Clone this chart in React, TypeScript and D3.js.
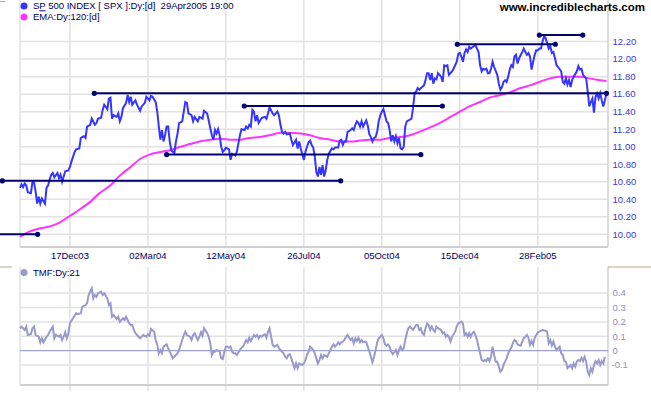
import * as d3 from "d3";
import React, { useEffect, useRef } from "react";

// bar index (trading days from the first bar) and close / 100
const price: [number, number][] = [
  [0, 10.53], [1, 10.57], [2, 10.54], [3, 10.58], [4, 10.56], [5, 10.48], [7, 10.47], [8, 10.6],
  [9, 10.59], [10, 10.49], [11, 10.35], [12, 10.43], [13, 10.35], [14, 10.41], [16, 10.35], [17, 10.53],
  [18, 10.56], [20, 10.68], [21, 10.7], [22, 10.65], [24, 10.7], [25, 10.64], [26, 10.68], [27, 10.6],
  [29, 10.72], [31, 10.73], [32, 10.77], [33, 10.83], [35, 10.94], [36, 10.97], [38, 10.98], [39, 11.1],
  [41, 11.12], [42, 11.1], [43, 11.23], [45, 11.25], [46, 11.32], [48, 11.25], [49, 11.27], [50, 11.32],
  [52, 11.33], [53, 11.42], [54, 11.48], [56, 11.43], [57, 11.55], [58, 11.56], [59, 11.32], [60, 11.36],
  [62, 11.34], [63, 11.38], [64, 11.29], [65, 11.34], [66, 11.44], [68, 11.5], [69, 11.59], [70, 11.51],
  [71, 11.57], [72, 11.48], [74, 11.53], [75, 11.48], [77, 11.41], [78, 11.46], [80, 11.5], [81, 11.57],
  [83, 11.53], [84, 11.58], [85, 11.57], [87, 11.51], [88, 11.4], [89, 11.23], [90, 11.08], [91, 11.19],
  [92, 11.06], [93, 11.13], [94, 11.23], [95, 11.23], [96, 11.06], [97, 10.96], [98, 10.94], [99, 10.93],
  [100, 11.06], [101, 11.15], [102, 11.27], [104, 11.29], [105, 11.4], [106, 11.51], [107, 11.5], [108, 11.38],
  [110, 11.36], [111, 11.29], [112, 11.34], [114, 11.29], [115, 11.34], [117, 11.32], [118, 11.41], [120, 11.38],
  [121, 11.3], [122, 11.21], [123, 11.13], [124, 11.08], [125, 11.19], [126, 11.15], [127, 11.2], [128, 11.13],
  [129, 11.0], [130, 10.94], [131, 10.96], [132, 10.99], [134, 10.97], [135, 10.85], [136, 10.92], [137, 10.91],
  [138, 10.9], [139, 10.94], [141, 11.13], [142, 11.2], [144, 11.19], [145, 11.23], [146, 11.21], [147, 11.25],
  [148, 11.23], [149, 11.42], [150, 11.4], [151, 11.29], [152, 11.36], [153, 11.27], [155, 11.33], [157, 11.34],
  [158, 11.32], [159, 11.38], [160, 11.45], [162, 11.38], [163, 11.36], [165, 11.4], [166, 11.36], [167, 11.25],
  [168, 11.17], [169, 11.15], [170, 11.17], [171, 11.14], [173, 11.15], [174, 11.08], [175, 11.02], [177, 11.08],
  [178, 10.98], [179, 11.06], [180, 10.98], [181, 10.91], [182, 10.85], [183, 10.94], [184, 11.0], [185, 11.05],
  [186, 11.07], [187, 11.02], [188, 10.99], [189, 10.89], [190, 10.71], [191, 10.66], [192, 10.77], [193, 10.68],
  [194, 10.79], [195, 10.66], [196, 10.73], [197, 10.85], [198, 10.92], [200, 10.98], [201, 10.97], [202, 10.99],
  [204, 10.99], [205, 11.07], [206, 11.08], [207, 11.02], [208, 11.06], [209, 11.06], [210, 11.17], [212, 11.19],
  [213, 11.21], [214, 11.19], [215, 11.25], [216, 11.29], [217, 11.27], [218, 11.23], [219, 11.29], [220, 11.23],
  [222, 11.3], [223, 11.24], [224, 11.14], [225, 11.11], [226, 11.06], [227, 11.1], [228, 11.11], [229, 11.17],
  [230, 11.29], [231, 11.36], [232, 11.4], [233, 11.43], [234, 11.36], [235, 11.29], [236, 11.27], [237, 11.19],
  [238, 11.06], [239, 11.13], [240, 11.06], [241, 11.12], [242, 11.04], [243, 11.1], [244, 10.98], [245, 10.97],
  [246, 11.0], [247, 11.23], [248, 11.29], [250, 11.31], [251, 11.32], [252, 11.44], [253, 11.61], [254, 11.63],
  [255, 11.67], [256, 11.65], [257, 11.67], [259, 11.7], [260, 11.76], [261, 11.84], [262, 11.84], [263, 11.76],
  [264, 11.84], [265, 11.72], [266, 11.78], [267, 11.77], [268, 11.84], [269, 11.82], [270, 11.8], [271, 11.74],
  [272, 11.93], [273, 11.92], [274, 11.93], [275, 11.82], [277, 11.86], [278, 11.89], [279, 11.93], [280, 11.97],
  [281, 12.06], [282, 12.07], [283, 12.03], [284, 11.97], [285, 12.07], [286, 12.11], [287, 12.08], [288, 12.14],
  [289, 12.12], [291, 12.15], [292, 12.16], [293, 12.12], [294, 12.08], [295, 11.93], [296, 11.86], [297, 11.89],
  [298, 11.88], [299, 11.89], [300, 11.84], [301, 11.84], [302, 11.89], [303, 11.97], [304, 11.91], [306, 11.82],
  [307, 11.72], [308, 11.65], [309, 11.68], [310, 11.74], [311, 11.76], [312, 11.74], [313, 11.8], [314, 11.88],
  [315, 11.93], [316, 11.91], [317, 12.03], [318, 12.05], [319, 11.95], [320, 12.01], [322, 12.08], [323, 12.12],
  [324, 12.08], [325, 12.05], [326, 12.07], [327, 12.03], [328, 11.88], [329, 11.97], [330, 12.05], [331, 12.1],
  [332, 12.1], [333, 12.12], [334, 12.12], [335, 12.2], [336, 12.26], [337, 12.24], [338, 12.18], [339, 12.12],
  [340, 12.15], [341, 12.07], [342, 12.08], [343, 12.01], [344, 11.93], [345, 11.91], [347, 11.86], [348, 11.74],
  [349, 11.72], [350, 11.78], [351, 11.71], [352, 11.76], [353, 11.68], [354, 11.76], [355, 11.8], [357, 11.86],
  [358, 11.92], [359, 11.88], [360, 11.89], [361, 11.82], [363, 11.78], [364, 11.63], [365, 11.46], [366, 11.51],
  [367, 11.55], [368, 11.39], [369, 11.57], [370, 11.61], [371, 11.55], [372, 11.61], [373, 11.53], [374, 11.46],
  [375, 11.53], [376, 11.61],
];

const ema120: [number, number][] = [
  [0, 9.97], [6, 10.03], [13, 10.07], [19, 10.09], [26, 10.14], [32, 10.21], [38, 10.28], [45, 10.37],
  [51, 10.47], [58, 10.56], [64, 10.67], [71, 10.77], [77, 10.86], [83, 10.91], [90, 10.94], [96, 10.96],
  [103, 11.0], [109, 11.03], [115, 11.06], [122, 11.08], [128, 11.09], [135, 11.08], [141, 11.08], [147, 11.1],
  [154, 11.11], [160, 11.13], [167, 11.16], [173, 11.16], [180, 11.15], [186, 11.13], [192, 11.1], [199, 11.08],
  [205, 11.06], [212, 11.06], [218, 11.07], [224, 11.08], [231, 11.08], [237, 11.1], [244, 11.11], [250, 11.13],
  [256, 11.17], [263, 11.22], [269, 11.27], [276, 11.34], [282, 11.4], [288, 11.46], [295, 11.51], [301, 11.56],
  [308, 11.59], [314, 11.62], [321, 11.67], [327, 11.7], [333, 11.74], [340, 11.78], [346, 11.8], [353, 11.8],
  [359, 11.8], [365, 11.78], [372, 11.76], [376, 11.75],
];

const tmf21: [number, number][] = [
  [0, 0.156], [1, 0.167], [3, 0.144], [4, 0.167], [5, 0.109], [7, 0.114], [8, 0.156], [9, 0.167],
  [10, 0.109], [12, 0.097], [13, 0.058], [14, 0.086], [15, 0.058], [17, 0.097], [18, 0.109], [19, 0.132],
  [21, 0.167], [22, 0.086], [23, 0.109], [25, 0.097], [26, 0.109], [27, 0.074], [28, 0.097], [29, 0.128],
  [30, 0.086], [31, 0.121], [32, 0.19], [34, 0.225], [36, 0.26], [37, 0.253], [39, 0.26], [40, 0.306],
  [42, 0.317], [43, 0.329], [44, 0.387], [46, 0.433], [47, 0.364], [48, 0.387], [49, 0.375], [50, 0.399],
  [52, 0.41], [53, 0.387], [54, 0.399], [56, 0.364], [57, 0.317], [58, 0.329], [59, 0.236], [60, 0.248],
  [62, 0.22], [63, 0.236], [64, 0.201], [66, 0.225], [67, 0.213], [68, 0.236], [69, 0.213], [70, 0.19],
  [71, 0.178], [72, 0.178], [73, 0.144], [74, 0.121], [76, 0.097], [77, 0.086], [79, 0.109], [81, 0.097],
  [82, 0.114], [83, 0.104], [84, 0.151], [86, 0.132], [87, 0.074], [88, 0.04], [89, -0.018], [90, 0.005],
  [91, -0.018], [92, 0.028], [94, 0.044], [95, 0.017], [96, -0.007], [97, -0.03], [98, -0.053], [100, -0.03],
  [101, -0.018], [102, 0.005], [103, 0.04], [104, 0.074], [105, 0.109], [106, 0.132], [107, 0.109], [109, 0.097],
  [110, 0.074], [111, 0.109], [112, 0.121], [114, 0.074], [115, 0.097], [116, 0.128], [117, 0.104], [118, 0.156],
  [120, 0.121], [121, 0.097], [122, 0.051], [123, -0.03], [124, -0.007], [125, -0.007], [126, 0.005], [128, -0.007],
  [129, -0.053], [130, -0.058], [131, -0.007], [132, 0.028], [133, 0.028], [134, 0.021], [135, 0.028], [136, -0.007],
  [137, -0.018], [138, -0.018], [139, -0.03], [141, 0.005], [142, 0.021], [143, 0.028], [144, 0.051], [145, 0.074],
  [146, 0.058], [147, 0.09], [148, 0.067], [150, 0.109], [151, 0.097], [152, 0.109], [153, 0.086], [154, 0.104],
  [155, 0.097], [156, 0.109], [157, 0.114], [158, 0.09], [159, 0.132], [160, 0.156], [161, 0.097], [162, 0.04],
  [163, 0.028], [165, 0.04], [166, 0.017], [167, 0.005], [168, -0.007], [169, -0.018], [170, -0.042], [171, -0.053],
  [172, -0.03], [173, -0.025], [174, -0.053], [175, -0.088], [176, -0.122], [177, -0.088], [178, -0.122], [179, -0.088],
  [181, -0.099], [182, -0.088], [183, -0.065], [184, -0.03], [185, -0.007], [186, 0.028], [187, 0.017], [188, 0.005],
  [189, -0.018], [190, -0.053], [191, -0.088], [192, -0.065], [193, -0.03], [194, -0.053], [195, -0.03], [197, -0.042],
  [198, -0.018], [199, 0.005], [200, 0.028], [201, 0.044], [202, 0.028], [203, 0.04], [204, 0.058], [205, 0.044],
  [206, 0.058], [207, 0.063], [208, 0.074], [209, 0.097], [210, 0.109], [212, 0.074], [213, 0.086], [214, 0.051],
  [215, 0.086], [216, 0.067], [217, 0.09], [218, 0.058], [219, 0.074], [220, 0.058], [221, 0.063], [222, 0.058],
  [223, 0.028], [224, -0.007], [225, -0.042], [226, -0.081], [227, -0.042], [228, 0.005], [229, 0.058], [230, 0.086],
  [231, 0.097], [232, 0.109], [233, 0.086], [234, 0.044], [235, 0.035], [236, 0.044], [237, 0.028], [238, -0.007],
  [239, -0.025], [241, 0.005], [242, -0.03], [243, 0.005], [244, 0.028], [245, 0.005], [246, 0.017], [247, 0.074],
  [248, 0.121], [249, 0.156], [250, 0.167], [251, 0.156], [252, 0.144], [254, 0.178], [255, 0.178], [256, 0.144],
  [257, 0.156], [258, 0.121], [259, 0.109], [260, 0.156], [261, 0.19], [262, 0.178], [263, 0.144], [264, 0.167],
  [265, 0.144], [266, 0.132], [267, 0.167], [268, 0.156], [270, 0.144], [271, 0.121], [272, 0.128], [273, 0.097],
  [274, 0.109], [275, 0.097], [276, 0.063], [277, 0.097], [278, 0.114], [279, 0.132], [280, 0.167], [281, 0.19],
  [283, 0.201], [284, 0.19], [285, 0.109], [286, 0.121], [287, 0.097], [288, 0.121], [289, 0.097], [290, 0.121],
  [291, 0.132], [292, 0.109], [293, 0.074], [294, 0.028], [295, -0.018], [296, -0.065], [297, -0.072], [298, -0.065],
  [299, -0.072], [300, -0.053], [301, -0.072], [302, -0.042], [303, 0.028], [304, -0.03], [305, -0.076], [306, -0.076],
  [307, -0.111], [308, -0.146], [309, -0.134], [310, -0.099], [311, -0.076], [312, -0.053], [313, -0.018], [314, 0.005],
  [315, 0.021], [316, 0.051], [317, 0.074], [318, 0.067], [319, 0.044], [321, 0.035], [322, 0.063], [323, 0.086],
  [324, 0.097], [325, 0.109], [326, 0.09], [327, 0.04], [328, 0.067], [329, 0.04], [330, 0.09], [331, 0.109],
  [332, 0.128], [333, 0.132], [334, 0.137], [335, 0.144], [337, 0.137], [338, 0.132], [339, 0.051], [340, 0.074],
  [341, 0.035], [342, 0.063], [343, 0.028], [344, 0.005], [345, 0.017], [346, 0.028], [347, -0.018], [348, -0.03],
  [349, -0.072], [350, -0.076], [351, -0.122], [353, -0.099], [354, -0.122], [355, -0.088], [356, -0.111], [357, -0.076],
  [358, -0.065], [359, -0.072], [360, -0.049], [361, -0.072], [362, -0.042], [363, -0.076], [364, -0.146], [365, -0.169],
  [366, -0.122], [367, -0.146], [368, -0.099], [369, -0.072], [370, -0.088], [371, -0.065], [372, -0.099], [373, -0.072],
  [374, -0.088], [375, -0.042],
];

// horizontal trend lines drawn on the price panel: from bar, to bar, level
const trendLines: [number, number, number][] = [
  [47.6, 376, 11.61],
  [143.8, 270.8, 11.465],
  [94, 257, 10.91],
  [-11.3, 205.6, 10.61],
  [-15, 11.3, 10.0],
  [280.4, 343.2, 12.17],
  [333, 360.8, 12.275],
];

const dateLabels = ["17Dec03", "02Mar04", "12May04", "26Jul04", "05Oct04", "15Dec04", "28Feb05"];
const dateBars = [32, 82, 132, 182, 232, 282, 332];
const priceTicks = [10.0, 10.2, 10.4, 10.6, 10.8, 11.0, 11.2, 11.4, 11.6, 11.8, 12.0, 12.2];
const tmfTicks = [0.4, 0.3, 0.2, 0.1, 0, -0.1];

const FONT = "'Liberation Sans', Arial, sans-serif";

const Chart: React.FC = () => {
  const ref = useRef<SVGSVGElement>(null);

  useEffect(() => {
    if (!ref.current) return;
    const svg = d3.select(ref.current);
    svg.selectAll("*").remove();

    const left = 20, right = 608;
    const x = d3.scaleLinear().domain([0, 377]).range([left, right]);
    const yP = d3.scaleLinear().domain([10, 12.2]).range([234.3, 41.6]);
    const yT = d3.scaleLinear().domain([0, 0.4]).range([350.7, 293.1]);
    const topBottom = 247, lowTop = 267, lowBottom = 385;
    const grid = "#e2e2e2";

    // ---- price panel grid
    const g1 = svg.append("g");
    g1.selectAll(".hg").data(priceTicks).enter().append("line")
      .attr("x1", left).attr("x2", right)
      .attr("y1", (d) => yP(d)).attr("y2", (d) => yP(d))
      .attr("stroke", grid).attr("stroke-width", 1.5);
    g1.selectAll(".vg").data(dateBars).enter().append("line")
      .attr("x1", (d) => x(d)).attr("x2", (d) => x(d))
      .attr("y1", 0).attr("y2", topBottom)
      .attr("stroke", grid).attr("stroke-width", 1.5);
    g1.append("line").attr("x1", left).attr("x2", left).attr("y1", 0).attr("y2", topBottom)
      .attr("stroke", grid).attr("stroke-width", 1.5);
    g1.append("line").attr("x1", right).attr("x2", right).attr("y1", 0).attr("y2", topBottom)
      .attr("stroke", "#d0d0d0").attr("stroke-width", 1.5);
    g1.append("line").attr("x1", left).attr("x2", right).attr("y1", topBottom).attr("y2", topBottom)
      .attr("stroke", "#d0d0d0").attr("stroke-width", 2);

    // y tick labels
    g1.selectAll(".yl").data(priceTicks).enter().append("text")
      .attr("x", 612.5).attr("y", (d) => yP(d))
      .attr("dy", "0.35em")
      .style("font-family", FONT).style("font-size", "9.5px")
      .attr("fill", "#3a3ad0")
      .text((d) => d.toFixed(2));

    // date labels
    svg.selectAll(".xl").data(dateBars).enter().append("text")
      .attr("x", (d) => x(d)).attr("y", 256).attr("dy", "0.35em")
      .attr("text-anchor", "middle")
      .style("font-family", FONT).style("font-size", "9.5px")
      .attr("fill", "#000060")
      .text((_, i) => dateLabels[i]);

    // EMA and price
    const line = d3.line<[number, number]>().x((d) => x(d[0])).y((d) => yP(d[1]));
    g1.append("path").attr("d", line.curve(d3.curveMonotoneX)(ema120)!)
      .attr("fill", "none").attr("stroke", "#ff33ff").attr("stroke-width", 2);
    g1.append("path").attr("d", line.curve(d3.curveLinear)(price)!)
      .attr("fill", "none").attr("stroke", "#3535ff").attr("stroke-width", 2);

    // trend lines with end dots
    const tl = g1.selectAll(".tl").data(trendLines).enter().append("g");
    tl.append("line")
      .attr("x1", (d) => x(d[0])).attr("x2", (d) => x(d[1]))
      .attr("y1", (d) => yP(d[2])).attr("y2", (d) => yP(d[2]))
      .attr("stroke", "#000070").attr("stroke-width", 2);
    tl.append("circle").attr("cx", (d) => x(d[0])).attr("cy", (d) => yP(d[2])).attr("r", 2.6).attr("fill", "#000070");
    tl.append("circle").attr("cx", (d) => x(d[1])).attr("cy", (d) => yP(d[2])).attr("r", 2.6).attr("fill", "#000070");

    // legend
    const leg = svg.append("g").style("font-family", FONT).style("font-size", "9.5px");
    leg.append("circle").attr("cx", 24).attr("cy", 6).attr("r", 3.5).attr("fill", "#3535ff");
    const t1 = leg.append("text").attr("x", 33).attr("y", 6).attr("dy", "0.35em")
      .attr("fill", "#000060").style("white-space", "pre");
    t1.append("tspan").text("S");
    t1.append("tspan").style("text-decoration", "underline").text("P");
    t1.append("tspan").text(" 500 INDEX [ SPX ]:Dy:[d]  29Apr2005 19:00");
    leg.append("circle").attr("cx", 24).attr("cy", 17).attr("r", 3.5).attr("fill", "#ff33ff");
    leg.append("text").attr("x", 33).attr("y", 17).attr("dy", "0.35em")
      .attr("fill", "#000060").text("EMA:Dy:120:[d]");

    svg.append("text").attr("x", 645).attr("y", 7).attr("dy", "0.35em")
      .attr("text-anchor", "end")
      .style("font-family", FONT).style("font-size", "11.5px").style("font-weight", "bold")
      .attr("fill", "#000").text("www.incrediblecharts.com");

    // ---- TMF panel
    const g2 = svg.append("g");
    g2.selectAll(".hg").data(tmfTicks.filter((d) => d !== 0)).enter().append("line")
      .attr("x1", left).attr("x2", right)
      .attr("y1", (d) => yT(d)).attr("y2", (d) => yT(d))
      .attr("stroke", grid).attr("stroke-width", 1.5);
    g2.selectAll(".vg").data(dateBars).enter().append("line")
      .attr("x1", (d) => x(d)).attr("x2", (d) => x(d))
      .attr("y1", lowTop).attr("y2", 391)
      .attr("stroke", grid).attr("stroke-width", 1.5);
    g2.append("line").attr("x1", left).attr("x2", left).attr("y1", lowTop).attr("y2", lowBottom)
      .attr("stroke", grid).attr("stroke-width", 1.5);
    g2.append("line").attr("x1", right).attr("x2", right).attr("y1", lowTop).attr("y2", lowBottom)
      .attr("stroke", "#d0d0d0").attr("stroke-width", 1.5);
    g2.append("line").attr("x1", left).attr("x2", right).attr("y1", lowBottom).attr("y2", lowBottom)
      .attr("stroke", "#d0d0d0").attr("stroke-width", 2);
    g2.append("line").attr("x1", left).attr("x2", right).attr("y1", yT(0)).attr("y2", yT(0))
      .attr("stroke", "#8c8cd0").attr("stroke-width", 1);

    g2.selectAll(".yl").data(tmfTicks).enter().append("text")
      .attr("x", (d) => (d < 0 ? 611.5 : 612.5)).attr("y", (d) => yT(d)).attr("dy", "0.35em")
      .style("font-family", FONT).style("font-size", "9.5px")
      .attr("fill", "#9090c0")
      .text((d) => (d === 0 ? "0" : String(d)));

    const tline = d3.line<[number, number]>().x((d) => x(d[0])).y((d) => yT(d[1]));
    g2.append("path").attr("d", tline(tmf21)!)
      .attr("fill", "none").attr("stroke", "#9999cc").attr("stroke-width", 2);

    g2.append("circle").attr("cx", 24).attr("cy", 272.5).attr("r", 3.5).attr("fill", "#9999cc");
    g2.append("text").attr("x", 33).attr("y", 272.5).attr("dy", "0.35em")
      .style("font-family", FONT).style("font-size", "9.5px")
      .attr("fill", "#000060").text("TMF:Dy:21");

    // panel separator ticks
    const sep = "#b4ac8c";
    svg.append("line").attr("x1", 0).attr("x2", 5).attr("y1", 1.5).attr("y2", 1.5).attr("stroke", sep);
    svg.append("line").attr("x1", 0).attr("x2", 12).attr("y1", 267).attr("y2", 267).attr("stroke", sep);
    svg.append("line").attr("x1", right).attr("x2", 651).attr("y1", 267).attr("y2", 267).attr("stroke", sep);
  }, []);

  return (
    <svg
      ref={ref}
      width={651}
      height={395}
      style={{ position: "absolute", left: 0, top: 0, background: "#fff" }}
    />
  );
};

export default function App() {
  return <Chart />;
}
